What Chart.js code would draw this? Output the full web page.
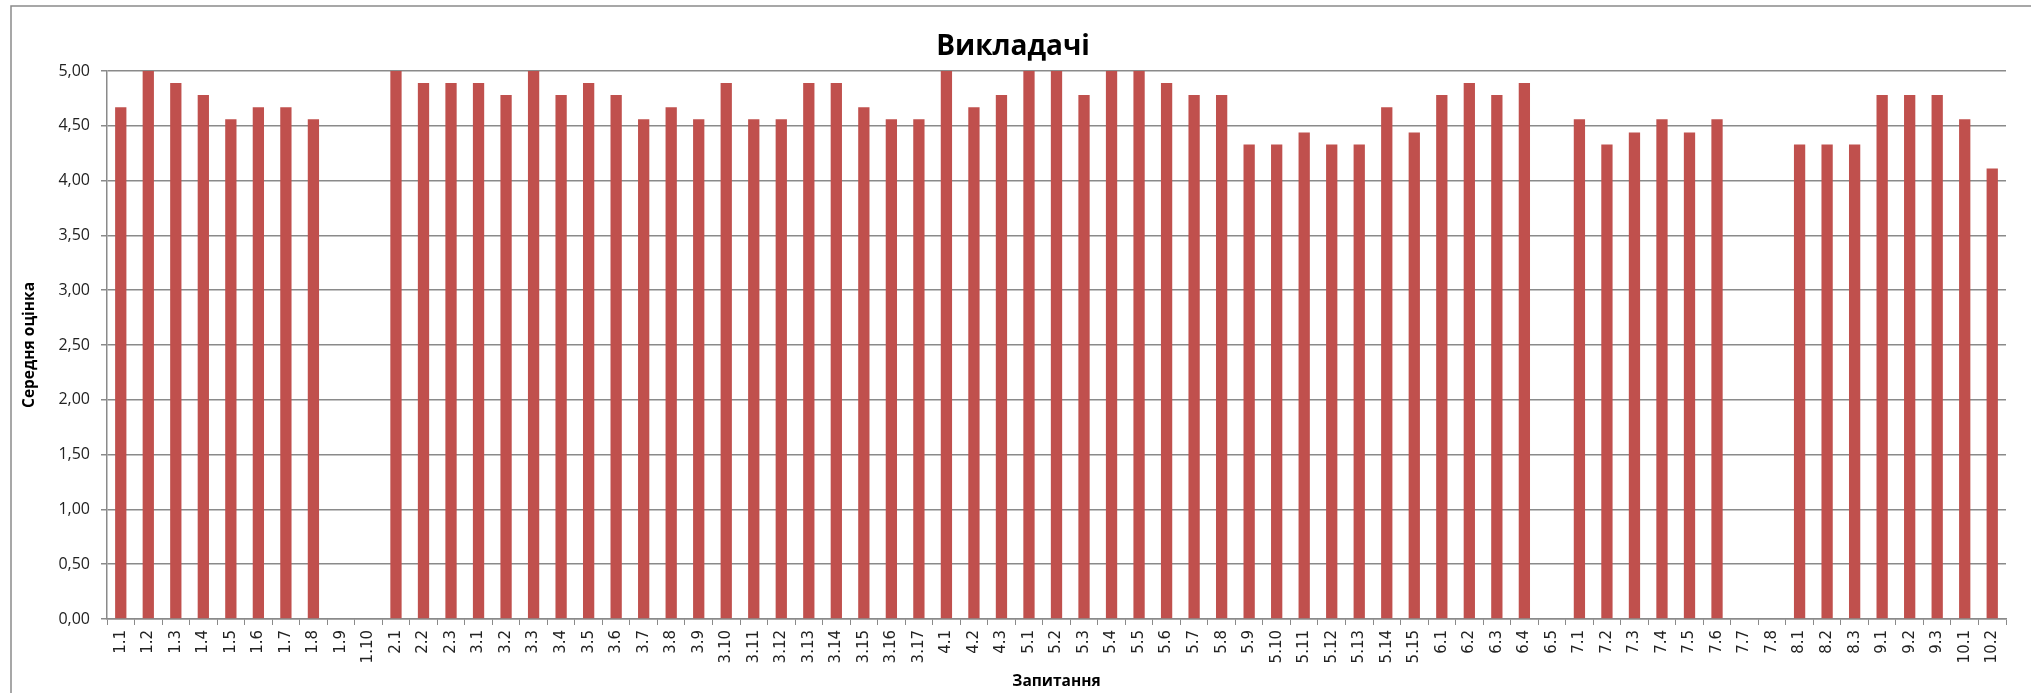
<!DOCTYPE html>
<html>
<head>
<meta charset="utf-8">
<script src="https://cdn.jsdelivr.net/npm/chart.js@4/dist/chart.umd.min.js"></script>
<style>
  html, body { margin: 0; padding: 0; background: #fff; }
  #wrap { width: 2031px; height: 693px; position: relative; }
</style>
</head>
<body>
<div id="wrap"><canvas id="c" width="2031" height="693"></canvas></div>
<script>
const categories = [
  "1.1","1.2","1.3","1.4","1.5","1.6","1.7","1.8","1.9","1.10",
  "2.1","2.2","2.3",
  "3.1","3.2","3.3","3.4","3.5","3.6","3.7","3.8","3.9","3.10","3.11","3.12","3.13","3.14","3.15","3.16","3.17",
  "4.1","4.2","4.3",
  "5.1","5.2","5.3","5.4","5.5","5.6","5.7","5.8","5.9","5.10","5.11","5.12","5.13","5.14","5.15",
  "6.1","6.2","6.3","6.4","6.5",
  "7.1","7.2","7.3","7.4","7.5","7.6","7.7","7.8",
  "8.1","8.2","8.3",
  "9.1","9.2","9.3",
  "10.1","10.2"
];
const averages = [
  4.67,5.00,4.89,4.78,4.56,4.67,4.67,4.56,null,null,
  5.00,4.89,4.89,
  4.89,4.78,5.00,4.78,4.89,4.78,4.56,4.67,4.56,4.89,4.56,4.56,4.89,4.89,4.67,4.56,4.56,
  5.00,4.67,4.78,
  5.00,5.00,4.78,5.00,5.00,4.89,4.78,4.78,4.33,4.33,4.44,4.33,4.33,4.67,4.44,
  4.78,4.89,4.78,4.89,null,
  4.56,4.33,4.44,4.56,4.44,4.56,null,null,
  4.33,4.33,4.33,
  4.78,4.78,4.78,
  4.56,4.11
];
const yTicks = [0,0.5,1,1.5,2,2.5,3,3.5,4,4.5,5];
const chartTitle = "Викладачі";
const yTitle = "Середня оцінка";
const xTitle = "Запитання";

const GRID = '#8a8a8a';

const framePlugin = {
  id: 'frame',
  beforeDraw(chart) {
    const ctx = chart.ctx;
    ctx.save();
    ctx.fillStyle = '#fff';
    ctx.fillRect(0, 0, chart.width, chart.height);
    ctx.strokeStyle = '#8a8a8a';
    ctx.lineWidth = 1.5;
    ctx.beginPath();
    ctx.moveTo(11, 800);
    ctx.lineTo(11, 6);
    ctx.lineTo(2040, 6);
    ctx.stroke();
    ctx.restore();
  }
};

new Chart(document.getElementById('c'), {
  type: 'bar',
  data: {
    labels: categories,
    datasets: [{
      label: chartTitle,
      data: averages,
      backgroundColor: '#C0504D',
      borderWidth: 0,
      barPercentage: 0.41,
      categoryPercentage: 1.0
    }]
  },
  plugins: [framePlugin],
  options: {
    responsive: false,
    animation: false,
    layout: { padding: { left: 20, right: 25, top: 0, bottom: 0 } },
    plugins: {
      legend: { display: false },
      tooltip: { enabled: false },
      title: {
        display: true,
        text: chartTitle,
        color: '#000',
        font: { family: 'Open Sans', size: 28, weight: 'bold', lineHeight: 1.2 },
        padding: { top: 30, bottom: 7.4 }
      }
    },
    scales: {
      x: {
        afterFit(scale) { scale.height = 74; },
        grid: {
          display: true,
          offset: true,
          drawOnChartArea: false,
          drawTicks: true,
          tickLength: 6,
          color: GRID,
          lineWidth: 1
        },
        border: { display: true, color: GRID, width: 1.5 },
        ticks: {
          autoSkip: false,
          minRotation: 90,
          maxRotation: 90,
          padding: 5,
          color: '#222',
          font: { family: 'DejaVu Sans', size: 15 }
        },
        title: {
          display: true,
          text: xTitle,
          color: '#000',
          font: { family: 'Open Sans', size: 15.5, weight: 'bold', lineHeight: 1.2 },
          padding: { top: 0, bottom: 2 }
        }
      },
      y: {
        min: 0,
        max: 5,
        afterFit(scale) { scale.width = 87; },
        afterBuildTicks(scale) { scale.ticks = yTicks.map(v => ({ value: v })); },
        grid: {
          color: GRID,
          lineWidth: 1.5,
          drawTicks: true,
          tickLength: 6
        },
        border: { display: true, color: GRID, width: 1.5 },
        ticks: {
          padding: 11,
          color: '#222',
          font: { family: 'Open Sans', size: 16 },
          callback: (v) => Number(v).toFixed(2).replace('.', ',')
        },
        title: {
          display: true,
          text: yTitle,
          color: '#000',
          font: { family: 'Open Sans', size: 15.5, weight: 'bold', lineHeight: 1.2 },
          padding: { top: 0, bottom: 0 }
        }
      }
    }
  }
});
</script>
</body>
</html>
